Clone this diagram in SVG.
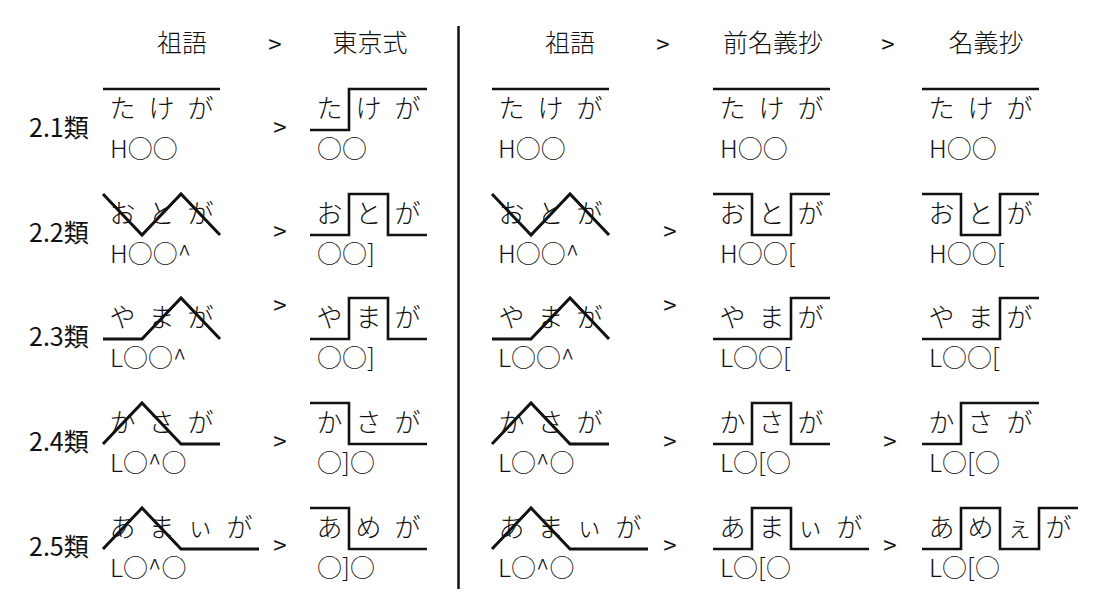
<svg xmlns="http://www.w3.org/2000/svg" width="1120" height="613" viewBox="0 0 1120 613">
<style>
text{font-family:"Noto Sans CJK JP","Noto Sans",sans-serif;font-size:24px;fill:#111}
.h{text-anchor:middle}
.t{font-weight:300;font-size:25px}
.k{text-anchor:middle;font-size:26px;font-weight:300}
.n{font-size:25px;font-weight:300}
.lbl{font-size:25px}
.p{fill:none;stroke:#111;stroke-width:2.6;stroke-linejoin:miter}
.z{fill:none;stroke:#111;stroke-width:3}
.div{stroke:#111;stroke-width:2.5}
</style>
<rect width="1120" height="613" fill="#fff"/>
<g id="headers">
<text class="h t" x="182" y="52">祖語</text>
<text class="h" x="275" y="53">&gt;</text>
<text class="h t" x="370" y="52">東京式</text>
<text class="h t" x="570" y="52">祖語</text>
<text class="h" x="663" y="53">&gt;</text>
<text class="h t" x="773" y="52">前名義抄</text>
<text class="h" x="888" y="53">&gt;</text>
<text class="h t" x="986" y="52">名義抄</text>
</g>
<g id="labels">
<text class="lbl" x="29" y="137">2.1類</text>
<text class="lbl" x="29" y="242">2.2類</text>
<text class="lbl" x="29" y="346">2.3類</text>
<text class="lbl" x="29" y="451">2.4類</text>
<text class="lbl" x="29" y="556">2.5類</text>
</g>
<g id="connectors">
<line class="div" x1="458.5" y1="26" x2="458.5" y2="589"/>
<text class="h" x="280" y="136">&gt;</text>
<text class="h" x="280" y="240">&gt;</text>
<text class="h" x="280" y="314">&gt;</text>
<text class="h" x="280" y="450">&gt;</text>
<text class="h" x="280" y="554">&gt;</text>
<text class="h" x="670" y="240">&gt;</text>
<text class="h" x="670" y="314">&gt;</text>
<text class="h" x="670" y="450">&gt;</text>
<text class="h" x="670" y="554">&gt;</text>
<text class="h" x="890" y="450">&gt;</text>
<text class="h" x="890" y="554">&gt;</text>
</g>
<!-- Left 祖語 -->
<g id="sogo-l-21">
<path class="p" d="M103 89H220"/>
<text class="k" x="122.5" y="118">た</text><text class="k" x="161.5" y="118">け</text><text class="k" x="200.5" y="118">が</text>
<text class="n" x="110" y="158">H○○</text>
</g>
<g id="sogo-l-22">
<path class="z" d="M103 194L142 235L181 194L220 235"/>
<text class="k" x="122.5" y="223">お</text><text class="k" x="161.5" y="223">と</text><text class="k" x="200.5" y="223">が</text>
<text class="n" x="110" y="263">H○○^</text>
</g>
<g id="sogo-l-23">
<path class="z" d="M103 339H142L181 298L220 339"/>
<text class="k" x="122.5" y="327">や</text><text class="k" x="161.5" y="327">ま</text><text class="k" x="200.5" y="327">が</text>
<text class="n" x="110" y="367">L○○^</text>
</g>
<g id="sogo-l-24">
<path class="z" d="M103 444L142 403L181 444H220"/>
<text class="k" x="122.5" y="432">か</text><text class="k" x="161.5" y="432">さ</text><text class="k" x="200.5" y="432">が</text>
<text class="n" x="110" y="472">L○^○</text>
</g>
<g id="sogo-l-25">
<path class="z" d="M103 549L142 508L181 549H259"/>
<text class="k" x="122.5" y="537">あ</text><text class="k" x="161.5" y="537">ま</text><text class="k" x="200.5" y="537">ぃ</text><text class="k" x="239.5" y="537">が</text>
<text class="n" x="110" y="577">L○^○</text>
</g>
<!-- 東京式 -->
<g id="tokyo-21">
<path class="p" d="M310 130H349V89H427"/>
<text class="k" x="329.5" y="118">た</text><text class="k" x="368.5" y="118">け</text><text class="k" x="407.5" y="118">が</text>
<text class="n" x="317" y="158">○○</text>
</g>
<g id="tokyo-22">
<path class="p" d="M310 235H349V194H388V235H427"/>
<text class="k" x="329.5" y="223">お</text><text class="k" x="368.5" y="223">と</text><text class="k" x="407.5" y="223">が</text>
<text class="n" x="317" y="263">○○]</text>
</g>
<g id="tokyo-23">
<path class="p" d="M310 339H349V298H388V339H427"/>
<text class="k" x="329.5" y="327">や</text><text class="k" x="368.5" y="327">ま</text><text class="k" x="407.5" y="327">が</text>
<text class="n" x="317" y="367">○○]</text>
</g>
<g id="tokyo-24">
<path class="p" d="M310 403H349V444H427"/>
<text class="k" x="329.5" y="432">か</text><text class="k" x="368.5" y="432">さ</text><text class="k" x="407.5" y="432">が</text>
<text class="n" x="317" y="472">○]○</text>
</g>
<g id="tokyo-25">
<path class="p" d="M310 508H349V549H427"/>
<text class="k" x="329.5" y="537">あ</text><text class="k" x="368.5" y="537">め</text><text class="k" x="407.5" y="537">が</text>
<text class="n" x="317" y="577">○]○</text>
</g>
<!-- Right 祖語 -->
<g id="sogo-r-21">
<path class="p" d="M492 89H609"/>
<text class="k" x="511.5" y="118">た</text><text class="k" x="550.5" y="118">け</text><text class="k" x="589.5" y="118">が</text>
<text class="n" x="498" y="158">H○○</text>
</g>
<g id="sogo-r-22">
<path class="z" d="M492 194L531 235L570 194L609 235"/>
<text class="k" x="511.5" y="223">お</text><text class="k" x="550.5" y="223">と</text><text class="k" x="589.5" y="223">が</text>
<text class="n" x="498" y="263">H○○^</text>
</g>
<g id="sogo-r-23">
<path class="z" d="M492 339H531L570 298L609 339"/>
<text class="k" x="511.5" y="327">や</text><text class="k" x="550.5" y="327">ま</text><text class="k" x="589.5" y="327">が</text>
<text class="n" x="498" y="367">L○○^</text>
</g>
<g id="sogo-r-24">
<path class="z" d="M492 444L531 403L570 444H609"/>
<text class="k" x="511.5" y="432">か</text><text class="k" x="550.5" y="432">さ</text><text class="k" x="589.5" y="432">が</text>
<text class="n" x="498" y="472">L○^○</text>
</g>
<g id="sogo-r-25">
<path class="z" d="M492 549L531 508L570 549H648"/>
<text class="k" x="511.5" y="537">あ</text><text class="k" x="550.5" y="537">ま</text><text class="k" x="589.5" y="537">ぃ</text><text class="k" x="628.5" y="537">が</text>
<text class="n" x="498" y="577">L○^○</text>
</g>
<!-- 前名義抄 -->
<g id="zen-21">
<path class="p" d="M713 89H830"/>
<text class="k" x="732.5" y="118">た</text><text class="k" x="771.5" y="118">け</text><text class="k" x="810.5" y="118">が</text>
<text class="n" x="720" y="158">H○○</text>
</g>
<g id="zen-22">
<path class="p" d="M713 194H752V235H791V194H830"/>
<text class="k" x="732.5" y="223">お</text><text class="k" x="771.5" y="223">と</text><text class="k" x="810.5" y="223">が</text>
<text class="n" x="720" y="263">H○○[</text>
</g>
<g id="zen-23">
<path class="p" d="M713 339H791V298H830"/>
<text class="k" x="732.5" y="327">や</text><text class="k" x="771.5" y="327">ま</text><text class="k" x="810.5" y="327">が</text>
<text class="n" x="720" y="367">L○○[</text>
</g>
<g id="zen-24">
<path class="p" d="M713 444H752V403H791V444H830"/>
<text class="k" x="732.5" y="432">か</text><text class="k" x="771.5" y="432">さ</text><text class="k" x="810.5" y="432">が</text>
<text class="n" x="720" y="472">L○[○</text>
</g>
<g id="zen-25">
<path class="p" d="M713 549H752V508H791V549H869"/>
<text class="k" x="732.5" y="537">あ</text><text class="k" x="771.5" y="537">ま</text><text class="k" x="810.5" y="537">ぃ</text><text class="k" x="849.5" y="537">が</text>
<text class="n" x="720" y="577">L○[○</text>
</g>
<!-- 名義抄 -->
<g id="myo-21">
<path class="p" d="M922 89H1039"/>
<text class="k" x="941.5" y="118">た</text><text class="k" x="980.5" y="118">け</text><text class="k" x="1019.5" y="118">が</text>
<text class="n" x="929" y="158">H○○</text>
</g>
<g id="myo-22">
<path class="p" d="M922 194H961V235H1000V194H1039"/>
<text class="k" x="941.5" y="223">お</text><text class="k" x="980.5" y="223">と</text><text class="k" x="1019.5" y="223">が</text>
<text class="n" x="929" y="263">H○○[</text>
</g>
<g id="myo-23">
<path class="p" d="M922 339H1000V298H1039"/>
<text class="k" x="941.5" y="327">や</text><text class="k" x="980.5" y="327">ま</text><text class="k" x="1019.5" y="327">が</text>
<text class="n" x="929" y="367">L○○[</text>
</g>
<g id="myo-24">
<path class="p" d="M922 444H961V403H1039"/>
<text class="k" x="941.5" y="432">か</text><text class="k" x="980.5" y="432">さ</text><text class="k" x="1019.5" y="432">が</text>
<text class="n" x="929" y="472">L○[○</text>
</g>
<g id="myo-25">
<path class="p" d="M922 549H961V508H1000V549H1039V508H1078"/>
<text class="k" x="941.5" y="537">あ</text><text class="k" x="980.5" y="537">め</text><text class="k" x="1019.5" y="537">ぇ</text><text class="k" x="1058.5" y="537">が</text>
<text class="n" x="929" y="577">L○[○</text>
</g>
</svg>
